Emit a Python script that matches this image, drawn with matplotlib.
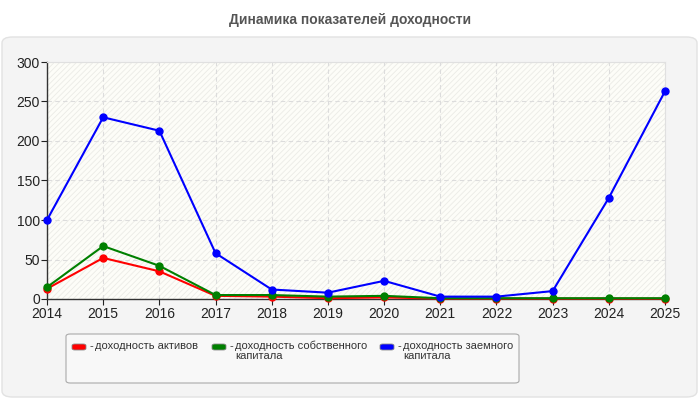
import matplotlib
matplotlib.use("Agg")
import matplotlib.pyplot as plt
from matplotlib.patches import FancyBboxPatch, Rectangle

years = [2014, 2015, 2016, 2017, 2018, 2019, 2020, 2021, 2022, 2023, 2024, 2025]
assets = [13, 52, 35, 4, 3, 1, 2, 0.5, 0.5, 0.5, 0.5, 0.5]
equity = [15, 67, 42, 5, 5, 3, 4, 1, 1, 1, 1, 1]
debt = [100, 230, 213, 58, 12, 8, 23, 3, 3, 10, 128, 263]
y_ticks = [0, 50, 100, 150, 200, 250, 300]

series = [
    (assets, "#ff0000", "доходность активов"),
    (equity, "#008000", "доходность собственного\nкапитала"),
    (debt, "#0000ff", "доходность заемного\nкапитала"),
]

plt.rcParams["font.family"] = ["Liberation Sans", "DejaVu Sans"]
plt.rcParams["hatch.color"] = "#ebebe6"
plt.rcParams["hatch.linewidth"] = 0.6

W, H = 700, 400
fig = plt.figure(figsize=(7, 4), dpi=100, facecolor="white")


def px(x, y):
    return x / W, 1 - y / H


# outer panel
x0, y0 = px(2, 397)
x1, y1 = px(697, 37)
fig.patches.append(FancyBboxPatch((x0, y0), x1 - x0, y1 - y0,
                                  boxstyle="round,pad=0,rounding_size=0.015",
                                  transform=fig.transFigure, facecolor="#f4f4f4",
                                  edgecolor="#e2e2e2", linewidth=1, zorder=0))

fig.text(0.5, 1 - 20 / H, "Динамика показателей доходности", ha="center", va="center",
         fontsize=10, fontweight="bold", color="#555555")

l, b = px(47, 299)
r, t = px(665, 62)
ax = fig.add_axes([l, b, r - l, t - b], zorder=2)
ax.set_facecolor("#fdfdf8")
ax.add_patch(Rectangle((0, 0), 1, 1, transform=ax.transAxes, facecolor="none",
                       hatch="//////", linewidth=0, zorder=0))

for vals, color, _ in series:
    ax.plot(years, vals, color=color, linewidth=1.5, marker="o", markersize=5, zorder=3,
            clip_on=False)

ax.set_xlim(years[0], years[-1])
ax.set_ylim(0, 300)
ax.set_xticks(years)
ax.set_yticks(y_ticks)
ax.grid(True, linestyle=(0, (4, 3)), color="#dcdcdc", linewidth=0.8, zorder=1)
ax.set_axisbelow(True)
ax.tick_params(labelsize=10, colors="#222222", length=4, width=0.8)
ax.tick_params(axis="x", pad=1.5)
ax.tick_params(axis="y", pad=1)
for side in ("top", "right"):
    ax.spines[side].set_color("#e0e0e0")
for side in ("left", "bottom"):
    ax.spines[side].set_color("#333333")
    ax.spines[side].set_linewidth(1)

# legend box
lx0, ly0 = px(66, 383)
lx1, ly1 = px(519, 334)
fig.patches.append(FancyBboxPatch((lx0, ly0), lx1 - lx0, ly1 - ly0,
                                  boxstyle="round,pad=0,rounding_size=0.006",
                                  transform=fig.transFigure, facecolor="#f8f8f8",
                                  edgecolor="#aaaaaa", linewidth=0.8, zorder=1))
legend_x = [72, 212, 380]
for (vals, color, label), xs in zip(series, legend_x):
    sx, sy = px(xs, 350)
    fig.patches.append(FancyBboxPatch((sx, sy), 14 / W, 6 / H,
                                      boxstyle="round,pad=0,rounding_size=0.004",
                                      transform=fig.transFigure, facecolor=color,
                                      edgecolor="#888888", linewidth=0.6, zorder=2))
    dx, dy = px(xs + 17, 341)
    fig.text(dx, dy, "-", ha="left", va="top", fontsize=8, color="#333333")
    tx, ty = px(xs + 23, 341)
    fig.text(tx, ty, label, ha="left", va="top", fontsize=8, color="#333333",
             linespacing=1.0)

fig.savefig("out.png", dpi=100, facecolor="white")
